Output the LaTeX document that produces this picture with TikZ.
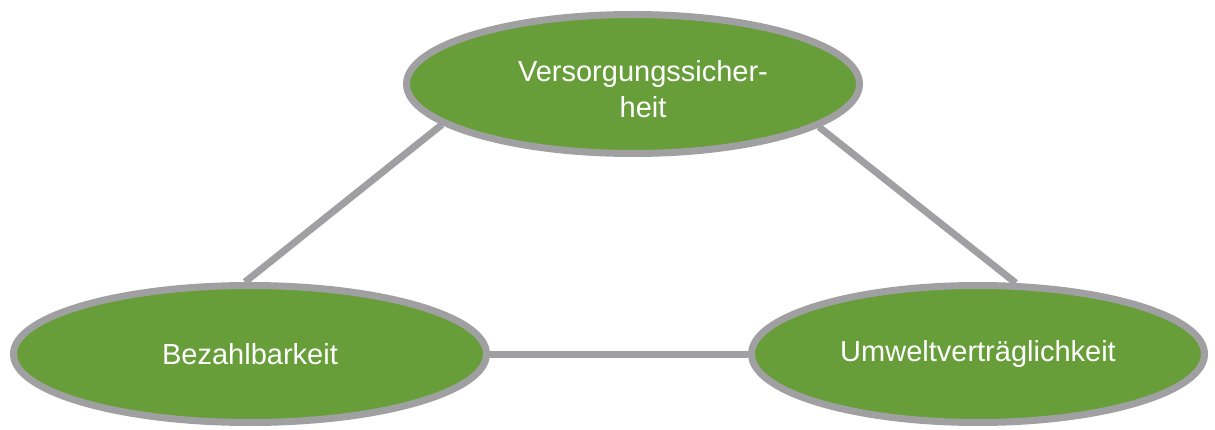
\documentclass[tikz,border=0pt]{standalone}
\usepackage{fontspec}
\setmainfont{Liberation Sans}
\usetikzlibrary{shapes.geometric}
\definecolor{egreen}{HTML}{679E3A}
\definecolor{egray}{HTML}{A0A0A2}
\begin{document}
\begin{tikzpicture}[x=1pt,y=-1pt,
  goal/.style={ellipse,draw=egray,fill=egreen,line width=7pt,inner sep=0pt,
    text=white,font=\fontsize{29}{36}\selectfont,align=center},
  link/.style={draw=egray,line width=7pt}]
\useasboundingbox (0,0) rectangle (1215,430);
\node[goal,minimum width=453pt,minimum height=139pt] (top) at (633,84) {};
\node[text=white,font=\fontsize{29}{36}\selectfont,align=center] (toptext) at (643,89) {Versorgungssicher-\\heit};
\node[goal,minimum width=473pt,minimum height=137pt] (left) at (250,354) {Bezahlbarkeit};
\node[goal,minimum width=453pt,minimum height=137pt] (right) at (978,354) {Umweltverträglichkeit};
\draw[link] (top.192.5) -- (left.94);
\draw[link] (top.347.5) -- (right.62);
\draw[link] (left.east) -- (right.west);
\end{tikzpicture}
\end{document}
